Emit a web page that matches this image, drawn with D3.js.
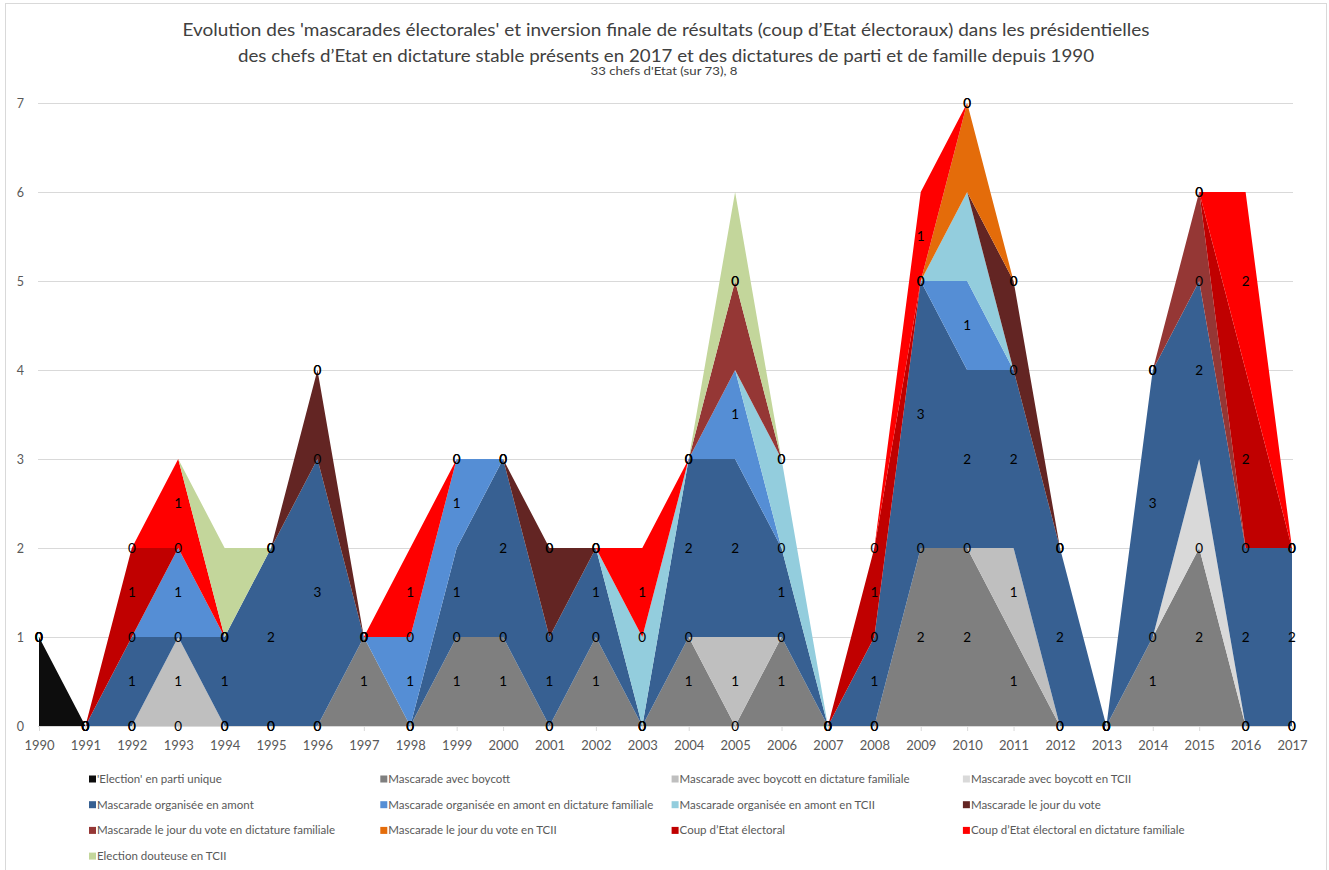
<!DOCTYPE html>
<html>
<head>
<meta charset="utf-8">
<script src="https://cdn.jsdelivr.net/npm/d3@7"></script>
<style>
  body { margin: 0; background: #fff; }
  svg { display: block; font-family: Lato, "Open Sans", sans-serif; }
</style>
</head>
<body>
<svg id="chart" width="1329" height="870"></svg>
<script>
// Years on the category axis
const years = [1990, 1991, 1992, 1993, 1994, 1995, 1996, 1997, 1998, 1999,
               2000, 2001, 2002, 2003, 2004, 2005, 2006, 2007, 2008, 2009,
               2010, 2011, 2012, 2013, 2014, 2015, 2016, 2017];

// Number of presidential elections per category and year (1990 → 2017)
const partiUnique       = [1,0,0,0,0,0,0,0,0,0, 0,0,0,0,0,0,0,0,0,0, 0,0,0,0,0,0,0,0];
const boycott           = [0,0,0,0,0,0,0,1,0,1, 1,0,1,0,1,0,1,0,0,2, 2,1,0,0,1,2,0,0];
const boycottFamille    = [0,0,0,1,0,0,0,0,0,0, 0,0,0,0,0,1,0,0,0,0, 0,1,0,0,0,0,0,0];
const boycottTCII       = [0,0,0,0,0,0,0,0,0,0, 0,0,0,0,0,0,0,0,0,0, 0,0,0,0,0,1,0,0];
const amont             = [0,0,1,0,1,2,3,0,0,1, 2,1,1,0,2,2,1,0,1,3, 2,2,2,0,3,2,2,2];
const amontFamille      = [0,0,0,1,0,0,0,0,1,1, 0,0,0,0,0,1,0,0,0,0, 1,0,0,0,0,0,0,0];
const amontTCII         = [0,0,0,0,0,0,0,0,0,0, 0,0,0,1,0,0,1,0,0,0, 1,0,0,0,0,0,0,0];
const jourVote          = [0,0,0,0,0,0,1,0,0,0, 0,1,0,0,0,0,0,0,0,0, 0,1,0,0,0,0,0,0];
const jourVoteFamille   = [0,0,0,0,0,0,0,0,0,0, 0,0,0,0,0,1,0,0,0,0, 0,0,0,0,0,1,0,0];
const jourVoteTCII      = [0,0,0,0,0,0,0,0,0,0, 0,0,0,0,0,0,0,0,0,0, 1,0,0,0,0,0,0,0];
const coupEtat          = [0,0,1,0,0,0,0,0,0,0, 0,0,0,0,0,0,0,0,1,0, 0,0,0,0,0,0,2,0];
const coupEtatFamille   = [0,0,0,1,0,0,0,0,1,0, 0,0,0,1,0,0,0,0,0,1, 0,0,0,0,0,0,2,0];
const douteuseTCII      = [0,0,0,0,1,0,0,0,0,0, 0,0,0,0,0,1,0,0,0,0, 0,0,0,0,0,0,0,0];

const seriesNames = [
  "'Election' en parti unique",
  "Mascarade avec boycott",
  "Mascarade avec boycott en dictature familiale",
  "Mascarade avec boycott en TCII",
  "Mascarade organisée en amont",
  "Mascarade organisée en amont en dictature familiale",
  "Mascarade organisée en amont en TCII",
  "Mascarade le jour du vote",
  "Mascarade le jour du vote en dictature familiale",
  "Mascarade le jour du vote en TCII",
  "Coup  d’Etat électoral",
  "Coup  d’Etat électoral  en dictature  familiale",
  "Election douteuse en TCII"
];
const seriesValues = [partiUnique, boycott, boycottFamille, boycottTCII, amont, amontFamille,
  amontTCII, jourVote, jourVoteFamille, jourVoteTCII, coupEtat, coupEtatFamille, douteuseTCII];
const seriesColors = ["#0d0d0d", "#7f7f7f", "#bfbfbf", "#d9d9d9", "#376092", "#558ed5",
  "#93cddd", "#632523", "#953735", "#e46c0a", "#c00000", "#ff0000", "#c3d69b"];
// Series that carry value labels
const labelledSeries = [1, 2, 4, 5, 10, 11];

const yTicks = [0, 1, 2, 3, 4, 5, 6, 7];

const titleLines = [
  "Evolution des 'mascarades électorales' et inversion finale de résultats (coup d’Etat électoraux) dans les présidentielles",
  "des chefs d’Etat en dictature stable présents en 2017 et des dictatures de parti et de famille depuis 1990"
];
const subtitle = "33 chefs d'Etat (sur 73), 8";

// ---------------------------------------------------------------
const svg = d3.select("#chart");

// Outer chart frame
svg.append("rect")
  .attr("x", 5.5).attr("y", 3.5)
  .attr("width", 1321).attr("height", 880)
  .attr("fill", "#fff").attr("stroke", "#d9d9d9");

const x = d3.scaleLinear().domain([years[0], years[years.length - 1]]).range([39, 1292]);
const y = d3.scaleLinear().domain([0, 7]).range([726, 103]);

// Titles
svg.append("text").attr("x", 666).attr("y", 36).attr("text-anchor", "middle")
  .attr("fill", "#404040").attr("font-size", 17)
  .attr("textLength", 967).attr("lengthAdjust", "spacingAndGlyphs")
  .text(titleLines[0]);
svg.append("text").attr("x", 666).attr("y", 62).attr("text-anchor", "middle")
  .attr("fill", "#404040").attr("font-size", 17)
  .attr("textLength", 856).attr("lengthAdjust", "spacingAndGlyphs")
  .text(titleLines[1]);
svg.append("text").attr("x", 664).attr("y", 75).attr("text-anchor", "middle")
  .attr("fill", "#404040").attr("font-size", 10.5)
  .attr("textLength", 147).attr("lengthAdjust", "spacingAndGlyphs")
  .text(subtitle);

// Gridlines + y axis labels
const yAxis = svg.append("g").attr("transform", "translate(38,0)")
  .call(d3.axisLeft(y).tickValues(yTicks).tickSize(-1255).tickPadding(14).tickFormat(d3.format("d")));
yAxis.select(".domain").remove();
yAxis.selectAll(".tick line").attr("stroke", "#d9d9d9");
yAxis.selectAll(".tick text").attr("fill", "#595959").attr("font-size", 12.5)
  .attr("font-family", "Lato, sans-serif");
yAxis.selectAll(".tick").filter(d => d === 0).select("line").remove();

// Stacked areas
const table = years.map((yr, i) => {
  const row = { year: yr };
  seriesValues.forEach((vals, k) => { row[k] = vals[i]; });
  return row;
});
const keys = seriesValues.map((_, k) => k);
const stacked = d3.stack().keys(keys)(table);

const area = d3.area()
  .x(d => x(d.data.year))
  .y0(d => y(d[0]))
  .y1(d => y(d[1]));

svg.append("g").selectAll("path")
  .data(stacked)
  .join("path")
  .attr("d", area)
  .attr("fill", d => seriesColors[d.key]);

// X axis
const xAxis = svg.append("g").attr("transform", `translate(0,${y(0)})`)
  .call(d3.axisBottom(x).tickValues(years).tickSize(5).tickSizeOuter(0).tickPadding(10)
    .tickFormat(d3.format("d")));
xAxis.select(".domain").attr("stroke", "#d9d9d9").attr("d", `M38,0.5H1293`);
xAxis.selectAll(".tick line").attr("stroke", "#d9d9d9");
xAxis.selectAll(".tick text").attr("fill", "#595959").attr("font-size", 13)
  .attr("font-family", "Lato, sans-serif");

// Value labels at the middle of each labelled band
const labels = svg.append("g").attr("font-size", 13.5).attr("fill", "#000")
  .attr("text-anchor", "middle");
labelledSeries.forEach(k => {
  labels.selectAll(null)
    .data(stacked[k])
    .join("text")
    .attr("x", d => x(d.data.year))
    .attr("y", d => y((d[0] + d[1]) / 2))
    .attr("dy", "0.35em")
    .text(d => d.data[k]);
});

// Legend: four columns
const legend = svg.append("g").attr("font-size", 11.5).attr("fill", "#595959");
seriesNames.forEach((name, k) => {
  const col = k % 4, row = Math.floor(k / 4);
  const gx = 89 + col * 291.3, gy = 779 + row * 25.7;
  legend.append("rect").attr("x", gx).attr("y", gy - 3.5).attr("width", 7).attr("height", 7)
    .attr("fill", seriesColors[k]);
  legend.append("text").attr("x", gx + 8).attr("y", gy).attr("dy", "0.35em").text(name);
});
</script>
</body>
</html>
